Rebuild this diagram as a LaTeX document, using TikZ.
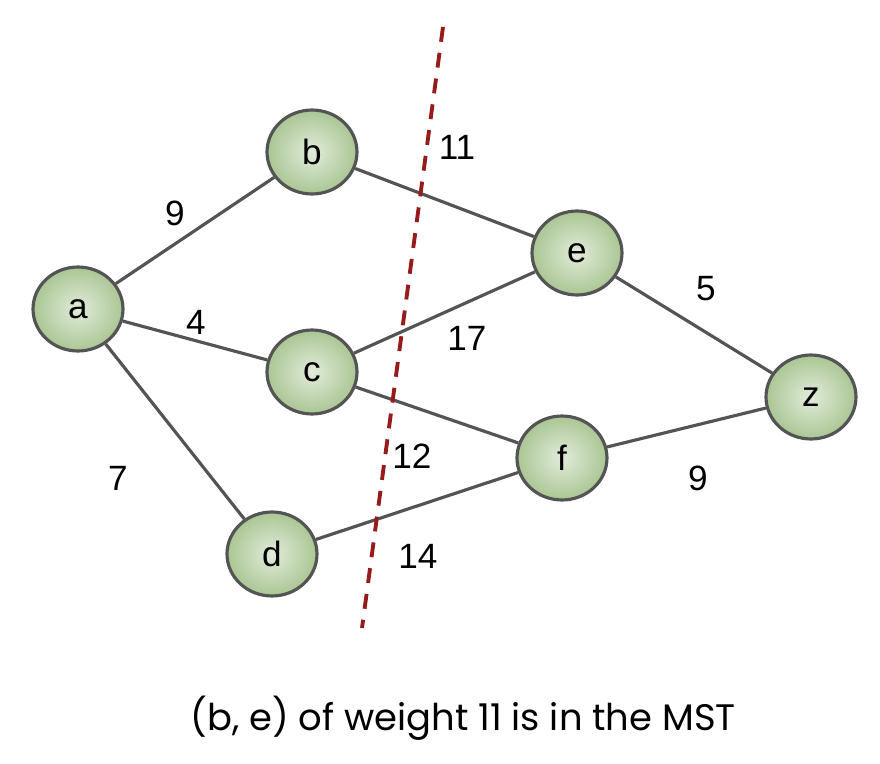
\documentclass[tikz,border=0pt]{standalone}
\usepackage{fontspec}
\setmainfont{Liberation Sans}
\newfontfamily\capfont{Poppins}
\usetikzlibrary{shapes.geometric}
\definecolor{nodein}{RGB}{226,236,218}
\definecolor{nodeout}{RGB}{170,198,148}
\definecolor{cutred}{RGB}{150,28,28}

\begin{document}
\begin{tikzpicture}[x=0.02cm,y=-0.02cm,
  vertex/.style={ellipse,draw=black!67,line width=1.8pt,shading=radial,
    inner color=nodein,outer color=nodeout,minimum width=1.8cm,
    minimum height=1.68cm,font=\fontsize{20}{24}\selectfont},
  edge/.style={black!67,line width=1.8pt},
  wt/.style={font=\fontsize{20}{24}\selectfont}]
  \useasboundingbox (0,0) rectangle (880,764);
  % ends of the cut
  \coordinate (cuttop) at (443,27);
  \coordinate (cutbot) at (362,628);
  \node[vertex] (a) at (78,309) {a};
  \node[vertex] (b) at (312,152) {b};
  \node[vertex] (c) at (312,372) {c};
  \node[vertex] (d) at (272,554) {d};
  \node[vertex] (e) at (577,253) {e};
  \node[vertex] (f) at (562,458) {f};
  \node[vertex] (z) at (811,397) {z};
  \draw[edge] (a) -- (b) (a) -- (c) (a) -- (d)
    (b) -- (e) (c) -- (e) (c) -- (f) (d) -- (f)
    (e) -- (z) (f) -- (z);
  \draw[cutred,line width=2.2pt,dash pattern=on 8.5pt off 6.3pt] (cuttop) -- (cutbot);
  \node[wt] (w1) at (175,213) {9};
  \node[wt] (w2) at (196,322) {4};
  \node[wt] (w3) at (118,478) {7};
  \node[wt] (w4) at (457,147) {11};
  \node[wt] (w5) at (467,338) {17};
  \node[wt] (w6) at (706,289) {5};
  \node[wt] (w7) at (412,456) {12};
  \node[wt] (w8) at (418,556) {14};
  \node[wt] (w9) at (698,478) {9};
  \node[font=\capfont\fontsize{21}{25}\selectfont] (cap) at (463,718) {(b, e) of weight 11 is in the MST};
\end{tikzpicture}
\end{document}
